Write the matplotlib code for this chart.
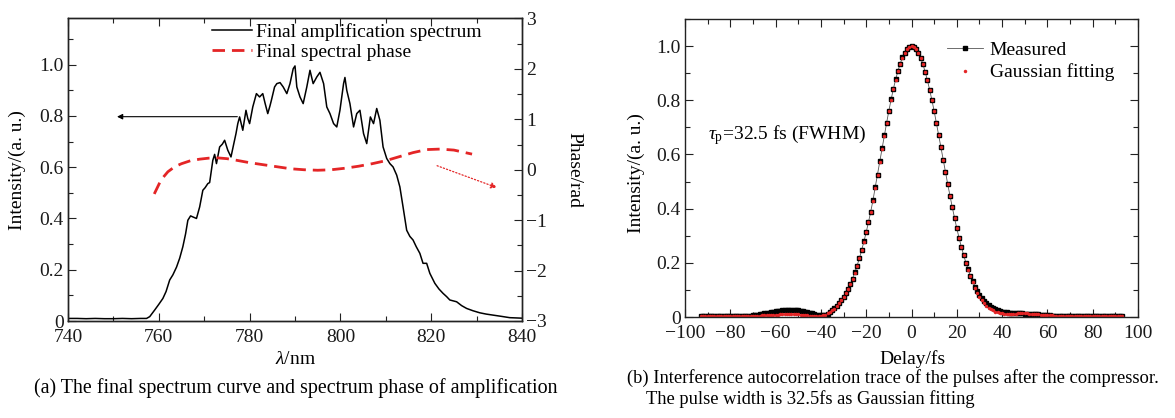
import matplotlib
matplotlib.use('Agg')
import matplotlib.pyplot as plt
from matplotlib.ticker import MultipleLocator, FuncFormatter

plt.rcParams['font.family'] = ['Liberation Serif', 'DejaVu Serif']
plt.rcParams['mathtext.fontset'] = 'custom'
plt.rcParams['mathtext.rm'] = 'Liberation Serif'
plt.rcParams['mathtext.it'] = 'Liberation Serif:italic'
plt.rcParams['axes.unicode_minus'] = True

RED = '#e42526'

# ---------------- data: (a) spectrum ----------------
wavelength = [740, 742, 744, 746, 748, 750, 752, 754, 756, 757.3, 758, 759.1, 760.0, 760.9,
              761.6, 762.4, 763.1, 763.9, 764.6, 765.3, 765.9, 766.4, 767.0, 767.5, 768.3,
              769.0, 769.7, 770.2, 770.8, 771.2, 771.9, 772.3, 772.7, 773.4, 774.0, 774.5,
              775.2, 775.9, 776.5, 777.0, 777.4, 777.8, 778.5, 779.2, 779.6, 780.0, 780.7,
              781.5, 782.2, 782.9, 783.4, 784.0, 784.5, 784.8, 785.5, 786.0, 786.7, 787.4,
              788.2, 788.9, 789.6, 790.0, 790.4, 791.1, 791.8, 792.6, 793.3, 794.0, 794.8,
              795.5, 796.3, 797.0, 797.7, 798.5, 799.2, 799.9, 800.7, 801.0, 801.4, 802.1,
              802.9, 803.6, 804.3, 805.1, 805.8, 806.6, 807.3, 808.0, 808.7, 809.4, 810.2,
              810.9, 811.6, 812.4, 813.1, 813.8, 814.6, 815.3, 816.0, 816.7, 817.5, 818.2,
              819.0, 819.7, 820.8, 821.7, 822.6, 823.4, 824.1, 825.6, 826.7, 827.8, 829.2,
              830.7, 832.1, 833.6, 835.5, 837.3, 838.7, 840]
intensity = [0.010, 0.010, 0.009, 0.010, 0.009, 0.009, 0.010, 0.009, 0.010, 0.010, 0.017,
             0.043, 0.065, 0.088, 0.115, 0.160, 0.180, 0.210, 0.245, 0.290, 0.340, 0.393,
             0.410, 0.406, 0.400, 0.445, 0.510, 0.520, 0.536, 0.540, 0.627, 0.650, 0.614,
             0.679, 0.690, 0.705, 0.666, 0.640, 0.690, 0.731, 0.770, 0.796, 0.744, 0.822,
             0.790, 0.770, 0.835, 0.887, 0.874, 0.887, 0.850, 0.809, 0.840, 0.861, 0.913,
             0.926, 0.930, 0.913, 0.887, 0.926, 0.984, 0.995, 0.913, 0.874, 0.848, 0.913,
             0.978, 0.926, 0.952, 0.970, 0.926, 0.835, 0.809, 0.770, 0.757, 0.822, 0.926,
             0.950, 0.900, 0.848, 0.757, 0.809, 0.822, 0.731, 0.692, 0.796, 0.770, 0.829,
             0.783, 0.679, 0.634, 0.614, 0.601, 0.569, 0.523, 0.445, 0.354, 0.330, 0.316,
             0.290, 0.264, 0.225, 0.225, 0.186, 0.147, 0.125, 0.108, 0.095, 0.082, 0.075,
             0.060, 0.049, 0.040, 0.032, 0.027, 0.023, 0.018, 0.013, 0.012, 0.011]

phase_wl = [759, 760.5, 762, 763.5, 765, 767, 769, 771, 773, 775, 777, 780, 783, 786, 789,
            792, 795, 798, 801, 804, 807, 810, 813, 816, 819, 822, 825, 827, 829]
phase = [-0.48, -0.20, -0.04, 0.06, 0.12, 0.18, 0.21, 0.23, 0.235, 0.22, 0.19, 0.14, 0.10,
         0.06, 0.02, 0.0, -0.01, 0.0, 0.03, 0.07, 0.12, 0.18, 0.26, 0.34, 0.40, 0.41, 0.39,
         0.35, 0.31]

# ---------------- data: (b) autocorrelation ----------------
delays = list(range(-93, 94))
measured = ([0.002] * 21 +
            [0.004, 0.005, 0.006, 0.007, 0.008, 0.010, 0.011, 0.013] +
            [0.015, 0.016, 0.018, 0.019, 0.021, 0.022, 0.023, 0.024, 0.025, 0.026,
             0.026, 0.026, 0.026, 0.025, 0.024, 0.023, 0.021, 0.019, 0.017, 0.015] +
            [0.013, 0.011, 0.009, 0.007] +
            [0.006, 0.006, 0.008, 0.012, 0.017, 0.024, 0.032] +
            [0.041, 0.051, 0.062, 0.074, 0.088, 0.104, 0.122, 0.142, 0.165, 0.190, 0.217,
             0.247, 0.279, 0.313, 0.350, 0.389, 0.431] +
            [0.480, 0.526, 0.574, 0.622, 0.670, 0.716, 0.761, 0.803, 0.842, 0.877, 0.908,
             0.935, 0.958, 0.976, 0.990, 0.998] +
            [1.000] +
            [0.997, 0.989, 0.976, 0.957, 0.934, 0.906, 0.874, 0.839, 0.801, 0.760, 0.716,
             0.671, 0.626, 0.580, 0.535, 0.490, 0.447, 0.405, 0.365, 0.327, 0.292, 0.259,
             0.229, 0.201, 0.176, 0.153, 0.132] +
            [0.112, 0.096, 0.082, 0.070, 0.060, 0.051, 0.044, 0.038, 0.033, 0.029, 0.025,
             0.022, 0.020] +
            [0.018, 0.017, 0.016, 0.015, 0.014, 0.014, 0.013, 0.013, 0.013, 0.012, 0.012,
             0.012, 0.011, 0.011, 0.010, 0.010] +
            [0.009, 0.008, 0.007, 0.007, 0.006, 0.005, 0.005, 0.004, 0.004, 0.003] +
            [0.003] * 14 + [0.002] * 13)
gauss_fit = ([0.002] * 21 +
             [0.003, 0.003, 0.004, 0.004, 0.005, 0.005, 0.006, 0.006] +
             [0.007, 0.007, 0.008, 0.008, 0.009, 0.009, 0.010, 0.010, 0.011, 0.011,
              0.011, 0.011, 0.011, 0.010, 0.010, 0.009, 0.008, 0.007, 0.006, 0.005] +
             [0.004, 0.003, 0.003, 0.003] +
             [0.004, 0.006, 0.009, 0.013, 0.018, 0.024, 0.031] +
             [0.040, 0.050, 0.061, 0.073, 0.087, 0.103, 0.121, 0.141, 0.164, 0.189, 0.216,
              0.246, 0.278, 0.312, 0.349, 0.388, 0.430] +
             [0.478, 0.524, 0.572, 0.621, 0.668, 0.715, 0.760, 0.802, 0.841, 0.876, 0.907,
              0.934, 0.957, 0.975, 0.989, 0.997] +
             [1.000] +
             [0.997, 0.989, 0.976, 0.957, 0.934, 0.906, 0.874, 0.839, 0.801, 0.760, 0.716,
              0.671, 0.626, 0.580, 0.535, 0.490, 0.447, 0.405, 0.365, 0.327, 0.292, 0.259,
              0.228, 0.200, 0.174, 0.150, 0.128, 0.108, 0.090, 0.075, 0.062, 0.051, 0.042,
              0.035, 0.029, 0.024, 0.020, 0.017, 0.015, 0.013] +
             [0.012, 0.012, 0.012, 0.012, 0.012, 0.012, 0.013, 0.013, 0.013, 0.013, 0.013,
              0.012, 0.012, 0.011, 0.011, 0.010] +
             [0.009, 0.008, 0.008, 0.007, 0.006, 0.006, 0.005, 0.005, 0.004, 0.004] +
             [0.003] * 14 + [0.002] * 13)

# ---------------- figure ----------------
W, H = 1175, 418
fig = plt.figure(figsize=(W / 100, H / 100), dpi=100)


def box(x0, y0, x1, y1):
    return [x0 / W, 1 - y1 / H, (x1 - x0) / W, (y1 - y0) / H]


def fxy(x, y):
    return (x / W, 1 - y / H)


FS = 14
SPINE = '#222222'


def style_ticks(ax, **kw):
    ax.tick_params(which='both', direction='in', labelsize=FS, width=0.8, colors=SPINE,
                   labelcolor='#1a1a1a', **kw)
    ax.tick_params(which='major', length=6)
    ax.tick_params(which='minor', length=3.5)
    ax.tick_params(axis='y', which='major', pad=3)
    ax.tick_params(axis='x', which='major', pad=6)
    for s in ax.spines.values():
        s.set_linewidth(1.0)
        s.set_color(SPINE)


def int_fmt(v, _):
    if abs(v) < 1e-9:
        return '0'
    return f'{v:.1f}'


def phase_fmt(v, _):
    n = int(round(v))
    return f'\u2212{abs(n)}' if n < 0 else f'{n}'


# (a)
ax1 = fig.add_axes(box(68, 18.5, 522, 321))
l1, = ax1.plot(wavelength, intensity, color='black', lw=1.1,
               label='Final amplification spectrum')
ax1.set_xlim(740, 840)
ax1.set_ylim(0, 1.18)
ax1.xaxis.set_major_locator(MultipleLocator(20))
ax1.xaxis.set_minor_locator(MultipleLocator(10))
ax1.yaxis.set_major_locator(MultipleLocator(0.2))
ax1.yaxis.set_minor_locator(MultipleLocator(0.1))
ax1.yaxis.set_major_formatter(FuncFormatter(int_fmt))
style_ticks(ax1, top=True, right=False)

ax1r = ax1.twinx()
l2, = ax1r.plot(phase_wl, phase, color=RED, lw=2.0, ls=(0, (4.5, 2.5)),
                label='Final spectral phase')
ax1r.set_ylim(-3, 3)
ax1r.yaxis.set_major_locator(MultipleLocator(1))
ax1r.yaxis.set_minor_locator(MultipleLocator(0.5))
ax1r.yaxis.set_major_formatter(FuncFormatter(phase_fmt))
style_ticks(ax1r, right=True, left=False, top=False)

ax1.annotate('', xy=(750.8, 0.797), xytext=(777.3, 0.797),
             arrowprops=dict(arrowstyle='-|>', color='black', lw=0.8, mutation_scale=8,
                             shrinkA=0, shrinkB=0))
ax1r.annotate('', xy=(834.5, -0.355), xytext=(821.3, 0.08),
              arrowprops=dict(arrowstyle='-|>', color=RED, lw=0.9, linestyle=':',
                              mutation_scale=9, shrinkA=0, shrinkB=0))

ax1.legend(handles=[l1, l2], loc='upper left', bbox_to_anchor=fxy(212, 23),
           bbox_transform=fig.transFigure, frameon=False, fontsize=FS,
           handlelength=2.05, handletextpad=0.2, borderpad=0, borderaxespad=0,
           labelspacing=0.12)

fig.text(*fxy(17, 170), 'Intensity/(a. u.)', rotation=90, ha='center', va='center',
         fontsize=FS)
fig.text(*fxy(296, 360), r'$\lambda$/nm', ha='center', va='center', fontsize=FS)
fig.text(*fxy(574, 170), 'Phase/rad', rotation=-90, ha='center', va='center',
         fontsize=FS)
fig.text(*fxy(296, 388), '(a) The final spectrum curve and spectrum phase of amplification',
         ha='center', va='center', fontsize=14.4)

# (b)
ax2 = fig.add_axes(box(685, 19, 1138, 317))
m1, = ax2.plot(delays, measured, color='#555555', lw=0.6, marker='s', ms=2.2,
               mfc='black', mec='black', label='Measured')
m2, = ax2.plot(delays, gauss_fit, ls='none', marker='o', ms=2.5, mfc=RED, mec='none',
               label='Gaussian fitting')
ax2.set_xlim(-100, 100)
ax2.set_ylim(0, 1.1)
ax2.xaxis.set_major_locator(MultipleLocator(20))
ax2.xaxis.set_minor_locator(MultipleLocator(10))
ax2.yaxis.set_major_locator(MultipleLocator(0.2))
ax2.yaxis.set_minor_locator(MultipleLocator(0.1))
ax2.yaxis.set_major_formatter(FuncFormatter(int_fmt))
style_ticks(ax2, top=True, right=True)

ax2.legend(handles=[m1, m2], loc='upper left', bbox_to_anchor=fxy(946.5, 41),
           bbox_transform=fig.transFigure, frameon=False, fontsize=FS, numpoints=1,
           handlelength=1.9, handletextpad=0.33, borderpad=0, borderaxespad=0,
           labelspacing=0.25)

fig.text(*fxy(708, 135), r'$\tau_{\rm p}$=32.5 fs (FWHM)', ha='left', va='center',
         fontsize=FS)
fig.text(*fxy(636, 173), 'Intensity/(a. u.)', rotation=90, ha='center', va='center',
         fontsize=FS)
fig.text(*fxy(912, 359), 'Delay/fs', ha='center', va='center', fontsize=FS)
fig.text(*fxy(627, 378),
         '(b) Interference autocorrelation trace of the pulses after the compressor.',
         ha='left', va='center', fontsize=13.3)
fig.text(*fxy(646, 399), 'The pulse width is 32.5fs as Gaussian fitting',
         ha='left', va='center', fontsize=13.3)

fig.savefig('out.png', dpi=100)
